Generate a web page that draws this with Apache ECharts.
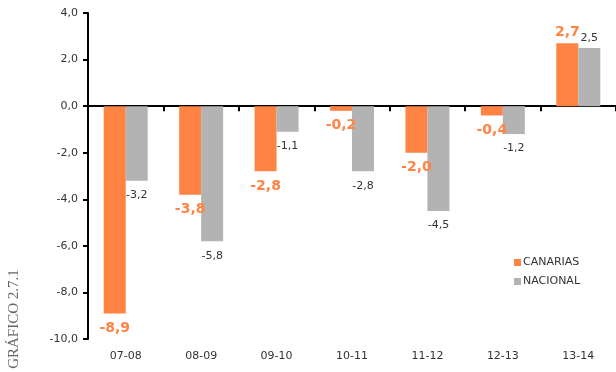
<!DOCTYPE html>
<html>
<head>
<meta charset="utf-8">
<script src="https://cdn.jsdelivr.net/npm/echarts@6/dist/echarts.min.js"></script>
<style>
html,body{margin:0;padding:0;background:#fff;}
#chart{width:616px;height:372px;}
</style>
</head>
<body>
<div id="chart"></div>
<script>
var categories = ['07-08','08-09','09-10','10-11','11-12','12-13','13-14'];
var canarias = [-8.9,-3.8,-2.8,-0.2,-2.0,-0.4,2.7];
var nacional = [-3.2,-5.8,-1.1,-2.8,-4.5,-1.2,2.5];
var seriesNames = ['CANARIAS','NACIONAL'];
var yMin = -10, yMax = 4, yStep = 2;
var sideTitle = 'GRÁFICO 2.7.1';

var ORANGE = '#FF8443';
var GRAY = '#B3B3B3';
var FONT = 'DejaVu Sans';
function fmt(v){ return Number(v).toFixed(1).replace('.', ','); }

function makeData(arr, distNeg, distPos){
  return arr.map(function(v){
    return {value: v, label: {position: v < 0 ? 'bottom' : 'top', distance: v < 0 ? distNeg : distPos}};
  });
}

var chart = echarts.init(document.getElementById('chart'), null, {renderer:'canvas'});
chart.setOption({
  animation: false,
  backgroundColor: '#fff',
  grid: {left: 88, top: 13, right: -2, bottom: 33, containLabel: false},
  legend: {
    orient: 'vertical',
    left: 509, top: 252,
    itemWidth: 7, itemHeight: 7, itemGap: 8,
    icon: 'rect',
    textStyle: {fontFamily: FONT, fontSize: 11, color: '#333', padding: [0,0,0,-3]},
    data: seriesNames
  },
  xAxis: [{
    type: 'category', data: categories,
    axisLine: {onZero: true, lineStyle: {color: '#000', width: 2}},
    axisTick: {show: true, length: 5, lineStyle: {color: '#000', width: 2}},
    axisLabel: {show: false},
    splitLine: {show: false}
  },{
    type: 'category', data: categories, position: 'bottom',
    axisLine: {show: false, onZero: false},
    axisTick: {show: false},
    axisLabel: {show: true, margin: 12, fontFamily: FONT, fontSize: 11, color: '#333'},
    splitLine: {show: false}
  }],
  yAxis: {
    type: 'value', min: yMin, max: yMax, interval: yStep,
    axisLine: {show: true, lineStyle: {color: '#000', width: 2}},
    axisTick: {show: true, length: 5, lineStyle: {color: '#000', width: 2}},
    axisLabel: {margin: 10, fontFamily: FONT, fontSize: 11, color: '#333', formatter: fmt},
    splitLine: {show: false}
  },
  series: [{
    name: seriesNames[0], type: 'bar', xAxisIndex: 0,
    barWidth: 22, barGap: '0%',
    itemStyle: {color: ORANGE},
    label: {show: true, fontFamily: FONT, fontSize: 14, fontWeight: 'bold', color: ORANGE,
      formatter: function(p){ return fmt(p.value); }},
    data: makeData(canarias, 8, 4)
  },{
    name: seriesNames[1], type: 'bar', xAxisIndex: 0,
    barWidth: 22, barGap: '0%',
    itemStyle: {color: GRAY},
    label: {show: true, fontFamily: FONT, fontSize: 11, color: '#333',
      formatter: function(p){ return fmt(p.value); }},
    data: makeData(nacional, 9, 4)
  }],
  graphic: [{
    type: 'text', x: 14, y: 319, rotation: Math.PI/2,
    style: {text: sideTitle, font: '15px "Liberation Serif"', fill: '#666',
      textAlign: 'center', textVerticalAlign: 'middle'}
  }]
});
</script>
</body>
</html>
